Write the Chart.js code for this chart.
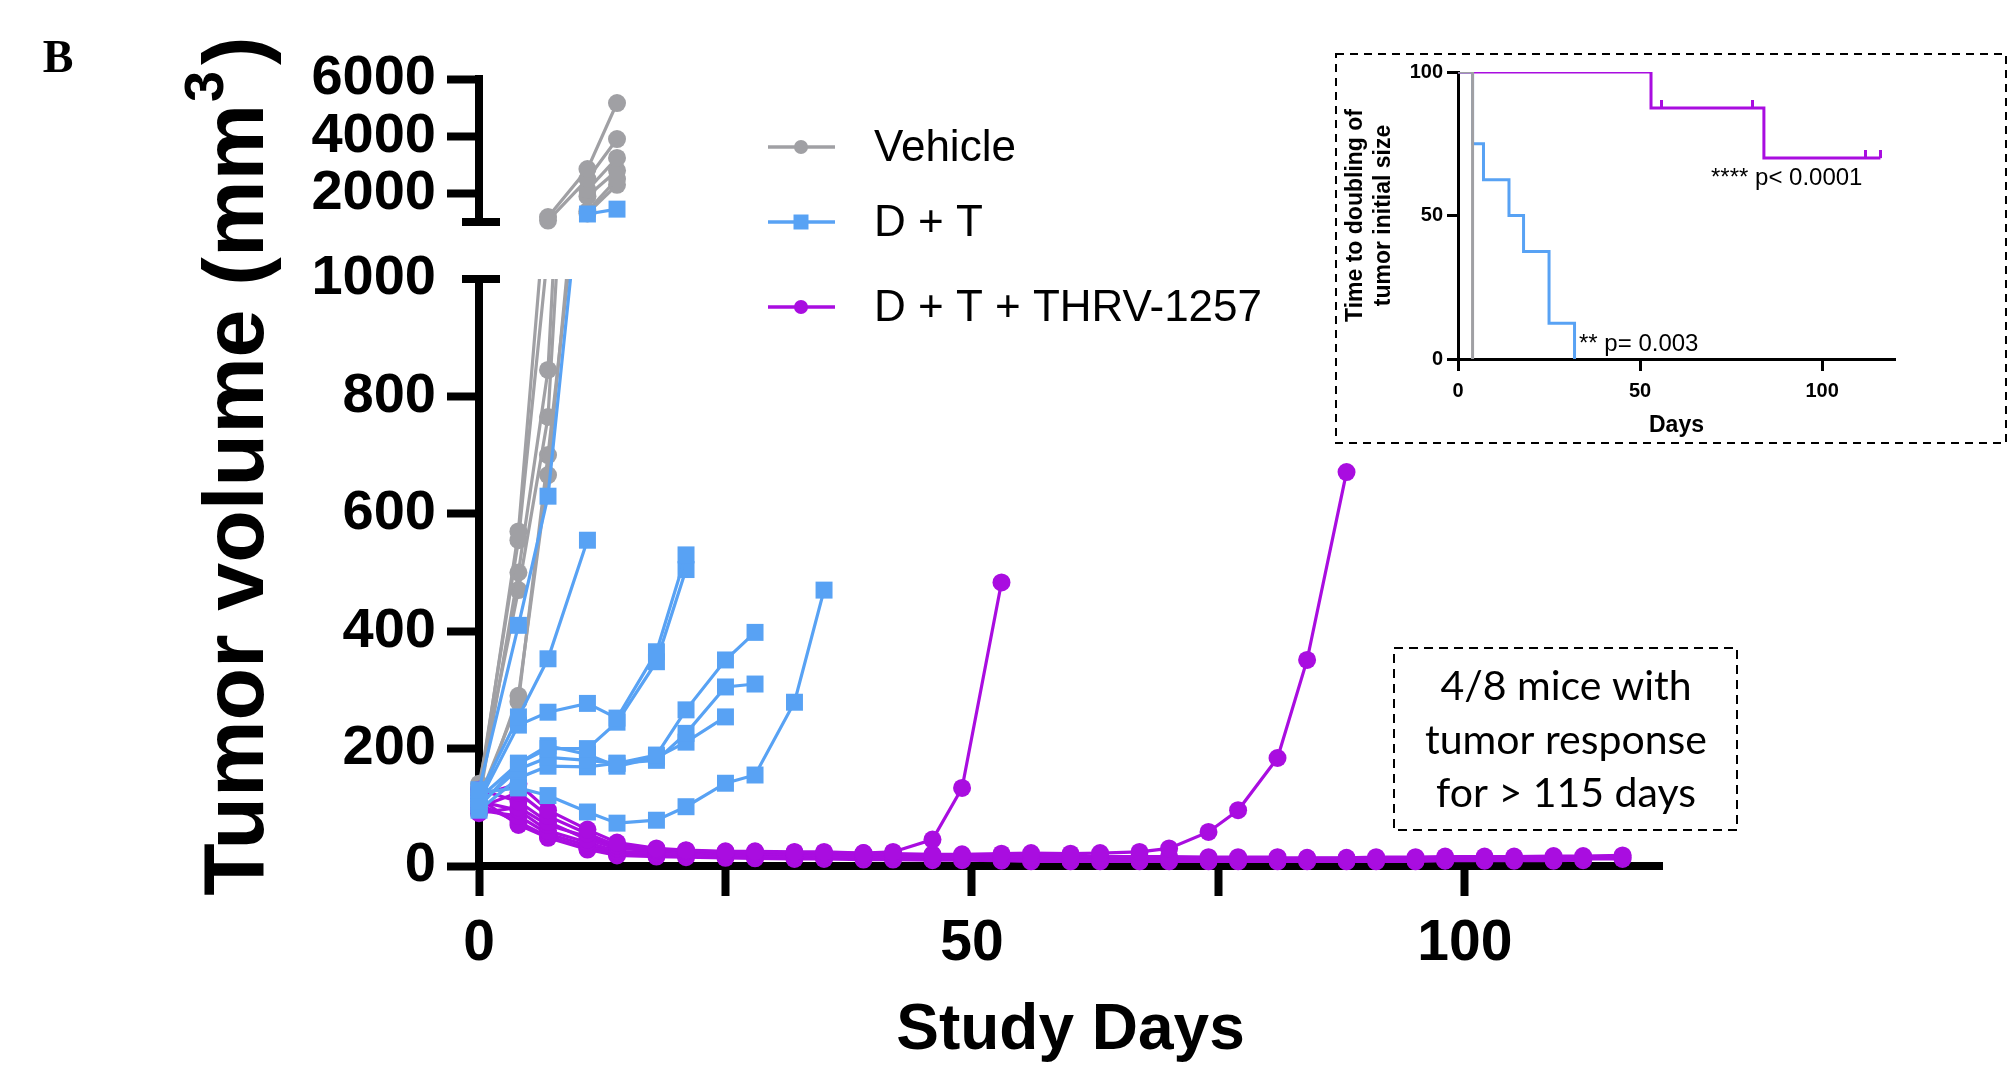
<!DOCTYPE html>
<html>
<head>
<meta charset="utf-8">
<script src="https://cdn.jsdelivr.net/npm/chart.js@4.4.1/dist/chart.umd.min.js"></script>
<style>
  html, body { margin: 0; padding: 0; background: #fff; }
  #wrap { position: relative; width: 2009px; height: 1065px; }
  #main { position: absolute; left: 0; top: 0; }
  #inset { position: absolute; left: 1338px; top: 56px; }
</style>
</head>
<body>
<div id="wrap">
  <canvas id="main" width="2009" height="1065"></canvas>
  <canvas id="inset" width="666" height="385"></canvas>
</div>
<script>
// tumor volume per mouse (mm3), one row per animal
const vehicleDays = [0, 4, 7, 11, 14];
const vehicleMice = [
  [120, 570, 1175, 2850, 5160],
  [130, 555, 1050, 2500, 3900],
  [110, 500, 845, 2120, 3240],
  [140, 470, 765, 1900, 2800],
  [100, 290, 666, 1380, 2500],
  [115, 280, 700, 1300, 2300]
];

const dtDays = [0, 4, 7, 11, 14, 18, 21, 25, 28, 32, 35];
const dtMice = [
  [130, 410, 630, 1280, 1450],
  [120, 254, 353, 555],
  [110, 240, 262, 277, 252, 365, 530],
  [100, 175, 200, 200, 245, 348, 505],
  [125, 133, 120, 92, 73, 78, 101, 141, 155, 279, 470],
  [105, 165, 185, 180, 175, 189, 266, 351, 398],
  [95, 150, 170, 169, 175, 180, 226, 305, 310],
  [115, 175, 205, 190, 170, 185, 211, 254]
];

const comboDays = [0, 4, 7, 11, 14, 18, 21, 25, 28, 32, 35, 39, 42, 46, 49, 53, 56, 60, 63, 67,
  70, 74, 77, 81, 84, 88, 91, 95, 98, 102, 105, 109, 112, 116];
const comboMice = [
  [120, 140, 95, 62, 40, 30, 27, 25, 25, 24, 24, 22, 24, 45, 133, 483],
  [100, 125, 85, 55, 35, 28, 26, 24, 24, 23, 22, 22, 21, 20, 20, 21, 22, 21, 22, 24, 30, 58, 95, 184, 351, 671],
  [130, 110, 75, 45, 30, 26, 24, 22, 22, 20, 19, 19, 18, 17, 17, 16, 16],
  [90, 100, 70, 50, 32, 26, 24, 22, 21, 20, 20, 19, 18, 18, 17, 17, 17, 16, 16, 16, 16, 15, 15, 15],
  [110, 95, 60, 40, 25, 22, 20, 19, 18, 17, 16, 16, 15, 15, 14, 14, 14, 13, 13, 13, 13, 13, 13, 14, 14, 14, 15, 15, 16, 16, 16, 17, 17, 18],
  [95, 85, 55, 35, 22, 20, 18, 17, 16, 16, 15, 15, 14, 14, 13, 13, 12, 12, 12, 12, 12, 12, 12, 12, 13, 13, 13, 13, 13, 14, 14, 14, 14, 15],
  [105, 75, 50, 30, 20, 18, 17, 16, 15, 14, 14, 13, 13, 12, 12, 11, 10, 10, 10, 9, 9, 9, 9, 9, 9, 10, 10, 10, 10, 11, 11, 11, 12, 12],
  [115, 70, 48, 28, 18, 16, 15, 14, 13, 12, 12, 11, 11, 10, 10, 9, 8, 8, 8, 8, 8, 8, 8, 8, 8, 8, 8, 8, 9, 9, 9, 9, 10]
];

const xTicks = [0, 25, 50, 75, 100];
const lowTicks = [0, 200, 400, 600, 800, 1000];
const highTicks = [2000, 4000, 6000];
const groupLabels = ['Vehicle', 'D + T', 'D + T + THRV-1257'];

// inset: time to doubling of initial size (Kaplan-Meier, %)
const kmVehicleDays = [0, 4];
const kmVehicle = [100, 0];
const kmDtDays = [0, 4, 7, 14, 18, 25, 32];
const kmDt = [100, 75, 62.5, 50, 37.5, 12.5, 0];
const kmComboDays = [0, 53, 84, 116];
const kmCombo = [100, 87.5, 70, 70];
const censorDays = [56, 81, 112, 116];
const censorVals = [87.5, 87.5, 70, 70];
const insetTicks = [0, 50, 100];

const GRAY = '#a0a0a4';
const BLUE = '#58a2f4';
const PURPLE = '#a90de0';
const FAM = "'Liberation Sans', Arial, sans-serif";

const groups = [
  { days: vehicleDays, mice: vehicleMice, color: GRAY, style: 'circle', order: 3 },
  { days: comboDays, mice: comboMice, color: PURPLE, style: 'circle', order: 2 },
  { days: dtDays, mice: dtMice, color: BLUE, style: 'rect', order: 1 }
];

function series(days, vals, keep) {
  return vals.map((v, i) => ({ x: days[i], y: keep(v) ? v : null }));
}

function mouseSet(data, g, axis) {
  return {
    data,
    yAxisID: axis,
    borderColor: g.color,
    backgroundColor: g.color,
    borderWidth: 3.2,
    pointStyle: g.style,
    pointRadius: g.style === 'rect' ? 12 : 9,
    pointBorderWidth: 0,
    pointBackgroundColor: g.color,
    spanGaps: false,
    clip: false,
    order: g.order
  };
}

const datasets = [];
for (const g of groups) {
  for (const m of g.mice) {
    datasets.push(mouseSet(series(g.days, m, () => true), g, 'yLow'));
    if (m.some(v => v >= 1000)) {
      datasets.push(mouseSet(series(g.days, m, v => v >= 1000), g, 'yHigh'));
    }
  }
}

// clip each dataset to its own segment of the broken axis
const segmentClip = {
  id: 'segmentClip',
  beforeDatasetDraw(chart, args) {
    const ys = args.meta.yScale;
    const a = chart.chartArea;
    const ctx = chart.ctx;
    const top = ys.id === 'yLow' ? ys.top : ys.top - 20;
    const bottom = ys.id === 'yLow' ? ys.bottom + 40 : ys.bottom + 14;
    ctx.save();
    ctx.beginPath();
    ctx.rect(a.left - 20, top, a.right - a.left + 40, bottom - top);
    ctx.clip();
  },
  afterDatasetDraw(chart) {
    chart.ctx.restore();
  }
};

function legendMarker(ctx, style, color, x, y) {
  ctx.fillStyle = color;
  ctx.beginPath();
  if (style === 'rect') ctx.rect(x - 7.5, y - 7.5, 15, 15);
  else ctx.arc(x, y, 7, 0, Math.PI * 2);
  ctx.fill();
}

const decor = {
  id: 'decor',
  afterDraw(chart) {
    const ctx = chart.ctx;
    const low = chart.scales.yLow;
    const high = chart.scales.yHigh;
    ctx.save();

    // caps at the axis break
    ctx.strokeStyle = '#000';
    ctx.lineWidth = 8;
    ctx.beginPath();
    ctx.moveTo(low.right - 17, low.top);
    ctx.lineTo(low.right + 21, low.top);
    ctx.moveTo(high.right - 17, high.bottom);
    ctx.lineTo(high.right + 21, high.bottom);
    ctx.stroke();

    // panel letter
    ctx.fillStyle = '#000';
    ctx.font = "bold 46px 'Liberation Serif', 'Times New Roman', serif";
    ctx.textAlign = 'center';
    ctx.textBaseline = 'middle';
    ctx.fillText('B', 58, 60);

    // y title with superscript
    ctx.save();
    ctx.translate(263, 466);
    ctx.rotate(-Math.PI / 2);
    const big = 'bold 86px ' + FAM;
    const sup = 'bold 56px ' + FAM;
    const main = 'Tumor volume (mm';
    ctx.font = big;
    const w1 = ctx.measureText(main).width;
    const w3 = ctx.measureText(')').width;
    ctx.font = sup;
    const w2 = ctx.measureText('3').width;
    const x0 = -(w1 + w2 + w3 + 8) / 2;
    ctx.textAlign = 'left';
    ctx.textBaseline = 'alphabetic';
    ctx.font = big;
    ctx.fillText(main, x0, 0);
    ctx.font = sup;
    ctx.fillText('3', x0 + w1 + 2, -40);
    ctx.font = big;
    ctx.fillText(')', x0 + w1 + w2 + 8, 0);
    ctx.restore();

    // legend
    const rows = [147, 222, 307];
    const legendGroups = [groups[0], groups[2], groups[1]];
    ctx.font = '44px ' + FAM;
    ctx.textAlign = 'left';
    ctx.textBaseline = 'middle';
    legendGroups.forEach((g, i) => {
      ctx.strokeStyle = g.color;
      ctx.lineWidth = 3.5;
      ctx.beginPath();
      ctx.moveTo(768, rows[i]);
      ctx.lineTo(835, rows[i]);
      ctx.stroke();
      legendMarker(ctx, g.style, g.color, 801, rows[i]);
      ctx.fillStyle = '#000';
      ctx.fillText(groupLabels[i], 874, rows[i] + 2);
    });

    // dashed boxes
    ctx.strokeStyle = '#000';
    ctx.lineWidth = 2;
    ctx.setLineDash([8, 6]);
    ctx.strokeRect(1336, 54, 670, 389);
    ctx.setLineDash([9, 6]);
    ctx.strokeRect(1394, 648, 343, 182);
    ctx.setLineDash([]);

    // annotation
    ctx.fillStyle = '#000';
    ctx.font = "41px Lato, 'Open Sans', sans-serif";
    ctx.textAlign = 'center';
    ctx.fillText('4/8 mice with', 1566, 687);
    ctx.fillText('tumor response', 1566, 741);
    ctx.fillText('for > 115 days', 1566, 794);

    // inset p-values
    ctx.font = '24px ' + FAM;
    ctx.textAlign = 'left';
    ctx.fillText('**** p< 0.0001', 1711, 178);
    ctx.fillText('** p= 0.003', 1579, 344);
    ctx.restore();
  }
};

const blackGrid = { drawOnChartArea: false, tickLength: 32, tickWidth: 8, tickColor: '#000' };
const yTickFont = { family: FAM, size: 56, weight: 'bold' };

new Chart(document.getElementById('main'), {
  type: 'line',
  data: { datasets },
  options: {
    responsive: false,
    animation: false,
    layout: { padding: { top: 79, right: 347, left: 0, bottom: 0 } },
    plugins: { legend: { display: false }, tooltip: { enabled: false } },
    scales: {
      x: {
        type: 'linear',
        position: 'bottom',
        min: 0,
        max: 120,
        afterBuildTicks: s => { s.ticks = xTicks.map(v => ({ value: v })); },
        afterFit: s => { s.height = 199; },
        ticks: {
          font: { family: FAM, size: 57, weight: 'bold' },
          color: '#000',
          padding: 14,
          autoSkip: false,
          maxRotation: 0,
          callback: v => (v % 50 === 0 ? String(v) : '')
        },
        grid: { drawOnChartArea: false, tickLength: 30, tickWidth: 8, tickColor: '#000' },
        border: { width: 8, color: '#000' },
        title: {
          display: true,
          text: 'Study Days',
          color: '#000',
          font: { family: FAM, size: 64, weight: 'bold', lineHeight: 1 },
          padding: { top: 0, bottom: 2 }
        }
      },
      yHigh: {
        type: 'linear',
        position: 'left',
        stack: 'vol',
        stackWeight: 143,
        weight: 3,
        min: 1000,
        max: 6000,
        afterBuildTicks: s => { s.ticks = highTicks.map(v => ({ value: v })); },
        afterFit: s => { s.width = 479; },
        ticks: { font: yTickFont, color: '#000', padding: 11, autoSkip: false, callback: v => String(v) },
        grid: blackGrid,
        border: { width: 8, color: '#000' }
      },
      yGap: {
        type: 'linear',
        position: 'left',
        stack: 'vol',
        stackWeight: 57,
        weight: 2,
        min: 0,
        max: 1,
        afterFit: s => { s.width = 479; },
        ticks: { display: false },
        grid: { display: false },
        border: { display: false }
      },
      yLow: {
        type: 'linear',
        position: 'left',
        stack: 'vol',
        stackWeight: 587,
        weight: 1,
        min: 0,
        max: 1000,
        afterBuildTicks: s => { s.ticks = lowTicks.map(v => ({ value: v })); },
        afterFit: s => { s.width = 479; },
        ticks: { font: yTickFont, color: '#000', padding: 11, autoSkip: false, callback: v => String(v) },
        grid: {
          drawOnChartArea: false,
          tickLength: 32,
          tickWidth: 8,
          tickColor: c => (c.tick && c.tick.value === 1000 ? 'rgba(0,0,0,0)' : '#000')
        },
        border: { width: 8, color: '#000' }
      }
    }
  },
  plugins: [segmentClip, decor]
});

// ---- inset ----
const censorMark = document.createElement('canvas');
censorMark.width = 3;
censorMark.height = 16;
const cm = censorMark.getContext('2d');
cm.fillStyle = PURPLE;
cm.fillRect(0, 0, 3, 8);

function kmSet(days, vals, color, order) {
  return {
    data: days.map((d, i) => ({ x: d, y: vals[i] })),
    borderColor: color,
    borderWidth: 3,
    stepped: 'before',
    pointRadius: 0,
    order
  };
}

const insetFont = { family: FAM, size: 20, weight: 'bold' };

new Chart(document.getElementById('inset'), {
  type: 'line',
  data: {
    datasets: [
      kmSet(kmVehicleDays, kmVehicle, GRAY, 1),
      kmSet(kmComboDays, kmCombo, PURPLE, 2),
      kmSet(kmDtDays, kmDt, BLUE, 3),
      {
        data: censorDays.map((d, i) => ({ x: d, y: censorVals[i] })),
        showLine: false,
        pointStyle: censorMark,
        pointRadius: 8,
        order: 0
      }
    ]
  },
  options: {
    responsive: false,
    animation: false,
    layout: { padding: { top: 11, right: 109, left: 0, bottom: 0 } },
    plugins: { legend: { display: false }, tooltip: { enabled: false } },
    scales: {
      x: {
        type: 'linear',
        min: 0,
        max: 120,
        afterBuildTicks: s => { s.ticks = insetTicks.map(v => ({ value: v })); },
        afterFit: s => { s.height = 82; },
        ticks: { font: insetFont, color: '#000', padding: 8, maxRotation: 0, callback: v => String(v) },
        grid: { drawOnChartArea: false, tickLength: 12, tickWidth: 3, tickColor: '#000' },
        border: { width: 3, color: '#000' },
        title: {
          display: true,
          text: 'Days',
          color: '#000',
          font: { family: FAM, size: 23, weight: 'bold', lineHeight: 1.2 },
          padding: { top: 0, bottom: 2 }
        }
      },
      y: {
        type: 'linear',
        min: 0,
        max: 100,
        afterBuildTicks: s => { s.ticks = insetTicks.map(v => ({ value: v })); },
        afterFit: s => { s.width = 120; },
        ticks: { font: insetFont, color: '#000', padding: 4, callback: v => String(v) },
        grid: { drawOnChartArea: false, tickLength: 11, tickWidth: 3, tickColor: '#000' },
        border: { width: 3, color: '#000' },
        title: {
          display: true,
          text: ['Time to doubling of', 'tumor initial size'],
          color: '#000',
          font: { family: FAM, size: 23, weight: 'bold', lineHeight: 1.22 },
          padding: { top: 4, bottom: 0 }
        }
      }
    }
  }
});
</script>
</body>
</html>
